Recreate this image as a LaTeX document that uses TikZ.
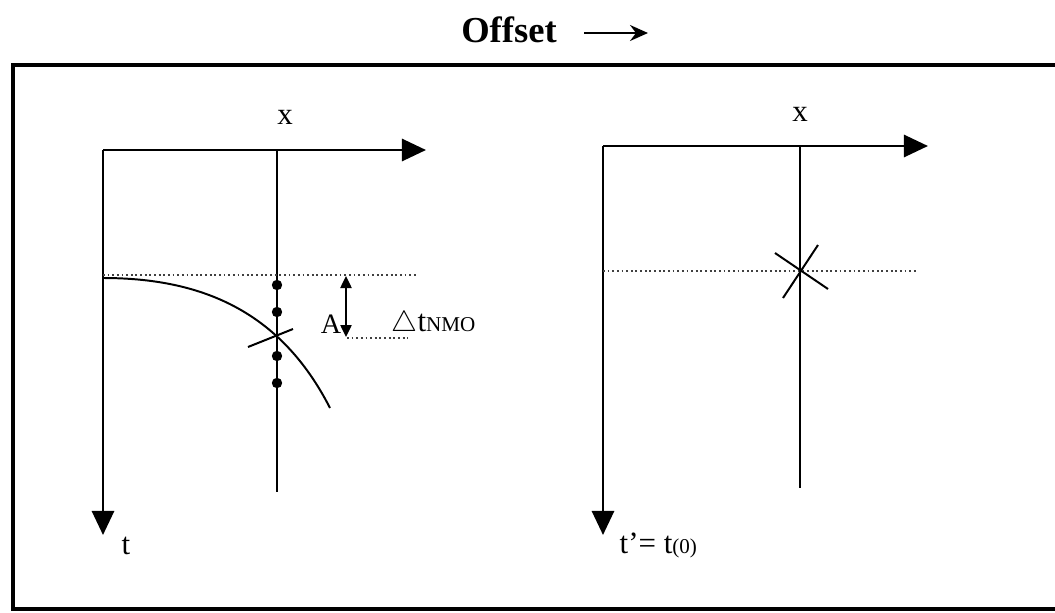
\documentclass[tikz,border=0pt]{standalone}
\usepackage{fontspec}
\setmainfont{Liberation Serif}
\usetikzlibrary{arrows.meta}
\begin{document}
\begin{tikzpicture}[x=0.025cm, y=-0.025cm,
    axis/.style={line width=2pt, -{Triangle[length=0.6cm, width=0.55cm]}},
    trace/.style={line width=1.4pt},
    level/.style={line width=1.3pt, dotted, draw=black!75},
    lbl/.style={font=\fontsize{22}{24}\selectfont, inner sep=1pt},
    sample/.style={circle, fill=black, minimum size=0.26cm, inner sep=0pt},
]
\useasboundingbox (0,0) rectangle (1055,613);
  % frame
  \draw[line width=3.5pt] (13,65) rectangle (1075,609);
  % title
  \node[lbl, font=\bfseries\fontsize{26}{28}\selectfont] (title) at (509,30) {Offset};
  \coordinate (offset_a) at (584,33);
  \coordinate (offset_b) at (648,33);
  \draw[line width=1.6pt, -{Stealth[length=0.45cm, width=0.4cm, inset=0.15cm]}] (offset_a) -- (offset_b);
  % left panel: NMO curve before correction
  \coordinate (o_left) at (103,150);
  \coordinate (x_left) at (426,150);
  \coordinate (t_left) at (103,535);
  \draw[axis] (o_left) -- (x_left);
  \draw[axis] (o_left) -- (t_left);
  \node[lbl] (xlab_left) at (285,117) {x};
  \node[lbl, anchor=west] (tlab_left) at (120,546) {t};
  \coordinate (tr_left_top) at (277,150);
  \coordinate (tr_left_bot) at (277,492);
  \draw[trace] (tr_left_top) -- (tr_left_bot);
  \coordinate (lv_left_a) at (103,275);
  \coordinate (lv_left_b) at (416,275);
  \draw[level] (lv_left_a) -- (lv_left_b);
  \coordinate (cv_start) at (103,278);
  \coordinate (cv_end) at (330,408);
  \draw[trace] (cv_start) .. controls (200,278) and (280,310) .. (cv_end);
  \foreach \y [count=\i] in {285,312,356,383}
    \node[sample] (s_left_\i) at (277,\y) {};
  \coordinate (tk_a) at (248,347);
  \coordinate (tk_b) at (293,329);
  \draw[trace] (tk_a) -- (tk_b);
  \coordinate (dt_top) at (346,276);
  \coordinate (dt_bot) at (346,337);
  \draw[line width=1.3pt, {Triangle[length=0.3cm, width=0.28cm]}-{Triangle[length=0.3cm, width=0.28cm]}] (dt_top) -- (dt_bot);
  \coordinate (lv_dt_a) at (347,338);
  \coordinate (lv_dt_b) at (408,338);
  \draw[level] (lv_dt_a) -- (lv_dt_b);
  \node[lbl, font=\fontsize{20}{22}\selectfont] (alab) at (331,324) {A};
  \node[lbl, anchor=west] (dtlab) at (390,324) {$\triangle$t{\fontsize{15}{16}\selectfont NMO}};
  % right panel: after correction
  \coordinate (o_right) at (603,146);
  \coordinate (x_right) at (928,146);
  \coordinate (t_right) at (603,535);
  \draw[axis] (o_right) -- (x_right);
  \draw[axis] (o_right) -- (t_right);
  \node[lbl] (xlab_right) at (800,114) {x};
  \node[lbl, anchor=west] (tlab_right) at (618,545) {t’= t{\fontsize{15}{16}\selectfont(0)}};
  \coordinate (tr_right_top) at (800,146);
  \coordinate (tr_right_bot) at (800,488);
  \draw[trace] (tr_right_top) -- (tr_right_bot);
  \coordinate (lv_right_a) at (603,271);
  \coordinate (lv_right_b) at (918,271);
  \draw[level] (lv_right_a) -- (lv_right_b);
  \coordinate (cr_a) at (775,253);
  \coordinate (cr_b) at (828,289);
  \coordinate (cr_c) at (818,245);
  \coordinate (cr_d) at (783,298);
  \draw[trace] (cr_a) -- (cr_b);
  \draw[trace] (cr_c) -- (cr_d);
\end{tikzpicture}
\end{document}
